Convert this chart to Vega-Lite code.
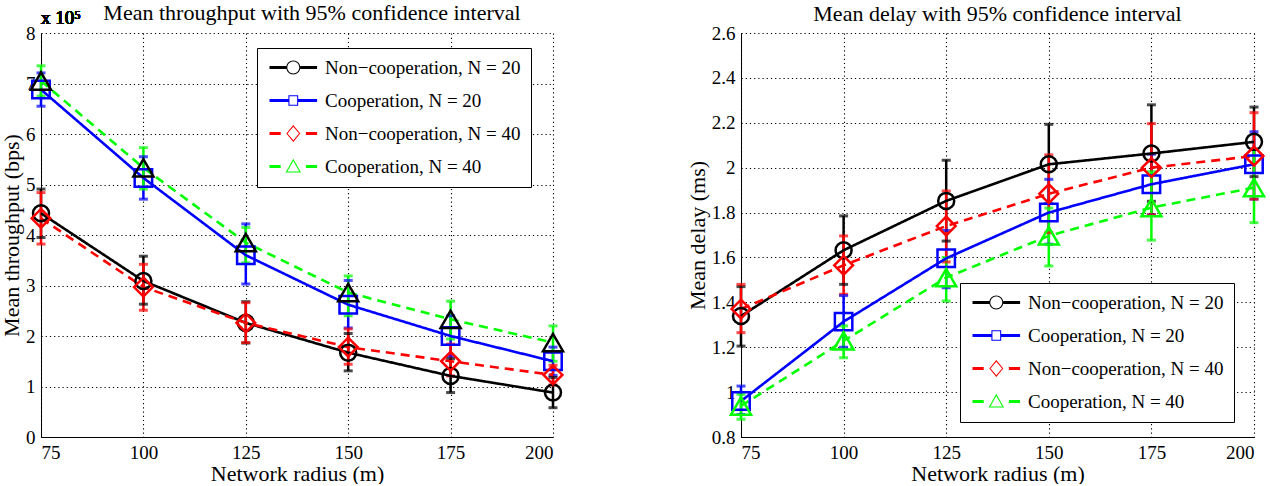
{
  "$schema": "https://vega.github.io/schema/vega-lite/v6.json",
  "background": "white",
  "padding": {"left": 0, "top": 2, "right": 0, "bottom": 0},
  "spacing": 118,
  "config": {
    "font": "Liberation Serif",
    "view": {"stroke": null},
    "axis": {
      "labelFont": "Liberation Serif", "labelFontSize": 19, "labelColor": "black",
      "titleFont": "Liberation Serif", "titleFontSize": 22, "titleFontWeight": "normal", "titleColor": "black",
      "domainColor": "black", "domainWidth": 1, "ticks": false,
      "gridColor": "black", "gridDash": [1.2, 3], "gridWidth": 1.1, "gridOpacity": 1,
      "labelPadding": 6
    },
    "axisY": {"titlePadding": 2},
    "axisX": {"titlePadding": 1},
    "title": {"font": "Liberation Serif", "fontSize": 22, "fontWeight": "normal", "color": "black", "anchor": "middle", "frame": "group"}
  },
  "datasets": {
    "thr": [
      {"series": "NC20", "r": 75, "mean": 4.43, "lo": 3.95, "hi": 4.91},
      {"series": "NC20", "r": 100, "mean": 3.09, "lo": 2.63, "hi": 3.58},
      {"series": "NC20", "r": 125, "mean": 2.26, "lo": 1.86, "hi": 2.68},
      {"series": "NC20", "r": 150, "mean": 1.67, "lo": 1.31, "hi": 2.05},
      {"series": "NC20", "r": 175, "mean": 1.21, "lo": 0.88, "hi": 1.55},
      {"series": "NC20", "r": 200, "mean": 0.88, "lo": 0.58, "hi": 1.18},
      {"series": "C20", "r": 75, "mean": 6.88, "lo": 6.55, "hi": 7.21},
      {"series": "C20", "r": 100, "mean": 5.13, "lo": 4.71, "hi": 5.55},
      {"series": "C20", "r": 125, "mean": 3.6, "lo": 3.03, "hi": 4.22},
      {"series": "C20", "r": 150, "mean": 2.62, "lo": 2.16, "hi": 3.1},
      {"series": "C20", "r": 175, "mean": 2.0, "lo": 1.6, "hi": 2.4},
      {"series": "C20", "r": 200, "mean": 1.5, "lo": 1.22, "hi": 1.78},
      {"series": "NC40", "r": 75, "mean": 4.33, "lo": 3.82, "hi": 4.84},
      {"series": "NC40", "r": 100, "mean": 2.97, "lo": 2.51, "hi": 3.42},
      {"series": "NC40", "r": 125, "mean": 2.26, "lo": 1.87, "hi": 2.66},
      {"series": "NC40", "r": 150, "mean": 1.78, "lo": 1.44, "hi": 2.14},
      {"series": "NC40", "r": 175, "mean": 1.5, "lo": 1.21, "hi": 1.84},
      {"series": "NC40", "r": 200, "mean": 1.23, "lo": 1.03, "hi": 1.42},
      {"series": "C40", "r": 75, "mean": 7.05, "lo": 6.75, "hi": 7.35},
      {"series": "C40", "r": 100, "mean": 5.33, "lo": 4.91, "hi": 5.73},
      {"series": "C40", "r": 125, "mean": 3.85, "lo": 3.45, "hi": 4.15},
      {"series": "C40", "r": 150, "mean": 2.86, "lo": 2.4, "hi": 3.19},
      {"series": "C40", "r": 175, "mean": 2.33, "lo": 1.94, "hi": 2.69},
      {"series": "C40", "r": 200, "mean": 1.87, "lo": 1.5, "hi": 2.2}
    ],
    "del": [
      {"series": "NC20", "r": 75, "mean": 1.339, "lo": 1.205, "hi": 1.47},
      {"series": "NC20", "r": 100, "mean": 1.632, "lo": 1.48, "hi": 1.785},
      {"series": "NC20", "r": 125, "mean": 1.852, "lo": 1.673, "hi": 2.033},
      {"series": "NC20", "r": 150, "mean": 2.015, "lo": 1.84, "hi": 2.193},
      {"series": "NC20", "r": 175, "mean": 2.063, "lo": 1.85, "hi": 2.28},
      {"series": "NC20", "r": 200, "mean": 2.115, "lo": 1.96, "hi": 2.27},
      {"series": "C20", "r": 75, "mean": 0.96, "lo": 0.9, "hi": 1.027},
      {"series": "C20", "r": 100, "mean": 1.314, "lo": 1.2, "hi": 1.43},
      {"series": "C20", "r": 125, "mean": 1.596, "lo": 1.465, "hi": 1.72},
      {"series": "C20", "r": 150, "mean": 1.8, "lo": 1.659, "hi": 1.948},
      {"series": "C20", "r": 175, "mean": 1.926, "lo": 1.79, "hi": 2.06},
      {"series": "C20", "r": 200, "mean": 2.015, "lo": 1.86, "hi": 2.16},
      {"series": "NC40", "r": 75, "mean": 1.37, "lo": 1.265, "hi": 1.48},
      {"series": "NC40", "r": 100, "mean": 1.565, "lo": 1.436, "hi": 1.696},
      {"series": "NC40", "r": 125, "mean": 1.74, "lo": 1.58, "hi": 1.896},
      {"series": "NC40", "r": 150, "mean": 1.884, "lo": 1.71, "hi": 2.057},
      {"series": "NC40", "r": 175, "mean": 2.0, "lo": 1.79, "hi": 2.196},
      {"series": "NC40", "r": 200, "mean": 2.052, "lo": 1.86, "hi": 2.245},
      {"series": "C40", "r": 75, "mean": 0.938, "lo": 0.879, "hi": 0.99},
      {"series": "C40", "r": 100, "mean": 1.228, "lo": 1.153, "hi": 1.295},
      {"series": "C40", "r": 125, "mean": 1.51, "lo": 1.406, "hi": 1.6},
      {"series": "C40", "r": 150, "mean": 1.696, "lo": 1.562, "hi": 1.82},
      {"series": "C40", "r": 175, "mean": 1.822, "lo": 1.677, "hi": 1.982},
      {"series": "C40", "r": 200, "mean": 1.911, "lo": 1.755, "hi": 2.082}
    ]
  },
  "resolve": {
    "scale": {"color": "independent", "shape": "independent", "strokeDash": "independent", "size": "independent", "stroke": "independent"},
    "legend": {"color": "independent"}
  },
  "hconcat": [
    {
      "width": 512, "height": 404,
      "title": {"text": "Mean throughput with 95% confidence interval", "dx": 15, "offset": -16},
      "data": {"name": "thr"},
      "encoding": {
        "x": {"field": "r", "type": "quantitative", "scale": {"domain": [75, 200], "nice": false, "zero": false},
              "axis": {"values": [75, 100, 125, 150, 175, 200], "title": "Network radius (m)", "grid": true}}
      },
      "layer": [
        {
          "mark": {"type": "rule", "strokeWidth": 2.5},
          "encoding": {
            "y": {"field": "lo", "type": "quantitative", "scale": {"domain": [0, 8], "nice": false},
                  "axis": {"values": [0, 1, 2, 3, 4, 5, 6, 7, 8], "title": "Mean throughput (bps)", "grid": true}},
            "y2": {"field": "hi"},
            "color": {"field": "series", "type": "nominal", "scale": {"domain": ["NC20", "C20", "NC40", "C40"], "range": ["#000000", "#0000ff", "#ff0000", "#00ff00"]},
              "legend": {
                "orient": "none", "legendX": 216, "legendY": 15, "title": null,
                "strokeColor": "black", "fillColor": "white", "padding": 10,
                "labelFont": "Liberation Serif", "labelFontSize": 19, "labelColor": "black", "labelLimit": 0,
                "labelExpr": "datum.value == 'NC20' ? 'Non−cooperation, N = 20' : datum.value == 'C20' ? 'Cooperation, N = 20' : datum.value == 'NC40' ? 'Non−cooperation, N = 40' : 'Cooperation, N = 40'",
                "symbolSize": 196, "rowPadding": 13, "labelOffset": 39,
                "encode": {"symbols": {"update": {
                  "shape": {"signal": "datum.value == 'NC20' ? 'M-1,-0.21H1.4V0.21H-1Z M3.4,-0.21H5.8V0.21H3.4Z M1.4,0A1,1 0 1,1 3.4,0A1,1 0 1,1 1.4,0Z M1.55,0A0.85,0.85 0 1,0 3.25,0A0.85,0.85 0 1,0 1.55,0Z' : datum.value == 'C20' ? 'M-1,-0.21H1.7V0.21H-1Z M3.1,-0.21H5.8V0.21H3.1Z M1.7,-0.75H3.1V0.75H1.7Z M1.85,-0.6V0.6H2.95V-0.6Z' : datum.value == 'NC40' ? 'M-1,-0.21H0.6V0.21H-1Z M4.2,-0.21H5.8V0.21H4.2Z M2.4,-1.2L3.4,0L2.4,1.2L1.4,0Z M2.4,-0.98L1.58,0L2.4,0.98L3.22,0Z' : 'M-1,-0.21H0.6V0.21H-1Z M4.2,-0.21H5.8V0.21H4.2Z M2.4,-1.1L3.5,0.85H1.3Z M2.4,-0.8L1.55,0.7H3.25Z'"},
                  "fill": {"signal": "datum.value == 'NC20' ? '#000000' : datum.value == 'C20' ? '#0000ff' : datum.value == 'NC40' ? '#ff0000' : '#00ff00'"},
                  "stroke": {"value": "transparent"},
                  "strokeWidth": {"value": 0},
                  "size": {"value": 196},
                  "opacity": {"value": 1}
                }}}
              }
            }
          }
        },
        {
          "mark": {"type": "tick", "orient": "horizontal", "size": 9, "thickness": 3},
          "encoding": {
            "y": {"field": "lo", "type": "quantitative", "title": "Mean throughput (bps)"},
            "color": {"field": "series", "type": "nominal"}
          }
        },
        {
          "mark": {"type": "tick", "orient": "horizontal", "size": 9, "thickness": 3},
          "encoding": {
            "y": {"field": "hi", "type": "quantitative", "title": "Mean throughput (bps)"},
            "color": {"field": "series", "type": "nominal"}
          }
        },
        {
          "mark": {"type": "line", "strokeWidth": 2.6},
          "encoding": {
            "y": {"field": "mean", "type": "quantitative", "title": "Mean throughput (bps)"},
            "color": {"field": "series", "type": "nominal"},
            "strokeDash": {"field": "series", "type": "nominal", "scale": {"domain": ["C40", "NC40", "C20", "NC20"], "range": [[9, 6], [9, 6], [1, 0], [1, 0]]}, "legend": null}
          }
        },
        {
          "mark": {"type": "point", "filled": false, "strokeWidth": 2.5, "opacity": 1},
          "encoding": {
            "y": {"field": "mean", "type": "quantitative", "title": "Mean throughput (bps)"},
            "stroke": {"field": "series", "type": "nominal", "scale": {"domain": ["C40", "NC40", "C20", "NC20"], "range": ["#000000", "#ff0000", "#0000ff", "#000000"]}, "legend": null},
            "shape": {"field": "series", "type": "nominal", "scale": {"domain": ["C40", "NC40", "C20", "NC20"], "range": ["triangle-up", "diamond", "square", "circle"]}, "legend": null},
            "size": {"field": "series", "type": "ordinal", "scale": {"domain": ["C40", "NC40", "C20", "NC20"], "range": [400, 256, 196, 289]}, "legend": null}
          }
        },
        {
          "mark": {"type": "text", "align": "left", "baseline": "alphabetic", "dy": -9, "fontSize": 19, "font": "Liberation Serif", "color": "black"},
          "encoding": {
            "x": {"datum": 75, "type": "quantitative"},
            "y": {"datum": 8, "type": "quantitative"},
            "text": {"value": "x 10⁵"}
          }
        }
      ]
    },
    {
      "width": 513, "height": 404,
      "title": {"text": "Mean delay with 95% confidence interval", "offset": -2},
      "data": {"name": "del"},
      "encoding": {
        "x": {"field": "r", "type": "quantitative", "scale": {"domain": [75, 200], "nice": false, "zero": false},
              "axis": {"values": [75, 100, 125, 150, 175, 200], "title": "Network radius (m)", "grid": true}}
      },
      "layer": [
        {
          "mark": {"type": "rule", "strokeWidth": 2.5},
          "encoding": {
            "y": {"field": "lo", "type": "quantitative", "scale": {"domain": [0.8, 2.6], "nice": false, "zero": false},
                  "axis": {"values": [0.8, 1, 1.2, 1.4, 1.6, 1.8, 2, 2.2, 2.4, 2.6], "format": "~g", "title": "Mean delay (ms)", "grid": true}},
            "y2": {"field": "hi"},
            "color": {"field": "series", "type": "nominal", "scale": {"domain": ["NC20", "C20", "NC40", "C40"], "range": ["#000000", "#0000ff", "#ff0000", "#00ff00"]},
              "legend": {
                "orient": "none", "legendX": 219, "legendY": 250, "title": null,
                "strokeColor": "black", "fillColor": "white", "padding": 10,
                "labelFont": "Liberation Serif", "labelFontSize": 19, "labelColor": "black", "labelLimit": 0,
                "labelExpr": "datum.value == 'NC20' ? 'Non−cooperation, N = 20' : datum.value == 'C20' ? 'Cooperation, N = 20' : datum.value == 'NC40' ? 'Non−cooperation, N = 40' : 'Cooperation, N = 40'",
                "symbolSize": 196, "rowPadding": 13, "labelOffset": 39,
                "encode": {"symbols": {"update": {
                  "shape": {"signal": "datum.value == 'NC20' ? 'M-1,-0.21H1.4V0.21H-1Z M3.4,-0.21H5.8V0.21H3.4Z M1.4,0A1,1 0 1,1 3.4,0A1,1 0 1,1 1.4,0Z M1.55,0A0.85,0.85 0 1,0 3.25,0A0.85,0.85 0 1,0 1.55,0Z' : datum.value == 'C20' ? 'M-1,-0.21H1.7V0.21H-1Z M3.1,-0.21H5.8V0.21H3.1Z M1.7,-0.75H3.1V0.75H1.7Z M1.85,-0.6V0.6H2.95V-0.6Z' : datum.value == 'NC40' ? 'M-1,-0.21H0.6V0.21H-1Z M4.2,-0.21H5.8V0.21H4.2Z M2.4,-1.2L3.4,0L2.4,1.2L1.4,0Z M2.4,-0.98L1.58,0L2.4,0.98L3.22,0Z' : 'M-1,-0.21H0.6V0.21H-1Z M4.2,-0.21H5.8V0.21H4.2Z M2.4,-1.1L3.5,0.85H1.3Z M2.4,-0.8L1.55,0.7H3.25Z'"},
                  "fill": {"signal": "datum.value == 'NC20' ? '#000000' : datum.value == 'C20' ? '#0000ff' : datum.value == 'NC40' ? '#ff0000' : '#00ff00'"},
                  "stroke": {"value": "transparent"},
                  "strokeWidth": {"value": 0},
                  "size": {"value": 196},
                  "opacity": {"value": 1}
                }}}
              }
            }
          }
        },
        {
          "mark": {"type": "tick", "orient": "horizontal", "size": 9, "thickness": 3},
          "encoding": {
            "y": {"field": "lo", "type": "quantitative", "title": "Mean delay (ms)"},
            "color": {"field": "series", "type": "nominal"}
          }
        },
        {
          "mark": {"type": "tick", "orient": "horizontal", "size": 9, "thickness": 3},
          "encoding": {
            "y": {"field": "hi", "type": "quantitative", "title": "Mean delay (ms)"},
            "color": {"field": "series", "type": "nominal"}
          }
        },
        {
          "mark": {"type": "line", "strokeWidth": 2.6},
          "encoding": {
            "y": {"field": "mean", "type": "quantitative", "title": "Mean delay (ms)"},
            "color": {"field": "series", "type": "nominal"},
            "strokeDash": {"field": "series", "type": "nominal", "scale": {"domain": ["C40", "NC40", "C20", "NC20"], "range": [[9, 6], [9, 6], [1, 0], [1, 0]]}, "legend": null}
          }
        },
        {
          "mark": {"type": "point", "filled": false, "strokeWidth": 2.5, "opacity": 1},
          "encoding": {
            "y": {"field": "mean", "type": "quantitative", "title": "Mean delay (ms)"},
            "color": {"field": "series", "type": "nominal"},
            "shape": {"field": "series", "type": "nominal", "scale": {"domain": ["C40", "NC40", "C20", "NC20"], "range": ["triangle-up", "diamond", "square", "circle"]}, "legend": null},
            "size": {"field": "series", "type": "ordinal", "scale": {"domain": ["C40", "NC40", "C20", "NC20"], "range": [400, 256, 196, 289]}, "legend": null}
          }
        }
      ]
    }
  ]
}
